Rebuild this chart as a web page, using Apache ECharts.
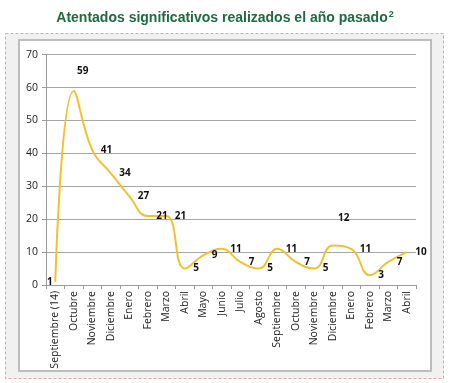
<!DOCTYPE html>
<html><head><meta charset="utf-8">
<script src="https://cdn.jsdelivr.net/npm/echarts@6/dist/echarts.min.js"></script>
<style>html,body{margin:0;padding:0;background:#fff}#c{width:450px;height:383px}</style>
</head><body><div id="c"></div>
<script>
const categories = ["Septiembre (14)","Octubre","Noviembre","Diciembre","Enero","Febrero","Marzo","Abril","Mayo","Junio","Julio","Agosto","Septiembre","Octubre","Noviembre","Diciembre","Enero","Febrero","Marzo","Abril"];
const values = [1,59,41,34,27,21,21,5,9,11,7,5,11,7,5,12,11,3,7,10];
const yTicks = [0,10,20,30,40,50,60,70];

const chart = echarts.init(document.getElementById('c'), null, {renderer:'canvas'});
const data = values.map((v,i)=>{
  const d = {value:v};
  if (i===0) d.label = {position:'left', distance:2};
  if (i===1) d.label = {position:'top', offset:[9,-6]};
  if (i===15) d.label = {position:'top', offset:[11,-14]};
  return d;
});
chart.setOption({
  animation:false,
  title:{
    text:'{t|Atentados significativos realizados el año pasado}{s|2}',
    left:'center', top:5,
    textStyle:{rich:{
      t:{fontFamily:'Liberation Sans, Arial',fontWeight:'bold',fontSize:14,color:'#1E6B41'},
      s:{fontFamily:'Liberation Sans, Arial',fontWeight:'bold',fontSize:9,color:'#1E6B41',verticalAlign:'top',padding:[0,0,8,1]}
    }}
  },
  graphic:[
    {type:'rect',shape:{x:5.5,y:33.5,width:438,height:345},style:{fill:'#F1F1F1',stroke:'#E3A3A3',lineWidth:1,lineDash:[3,2]},z:-10},
    {type:'rect',shape:{x:19,y:40,width:412,height:331},style:{fill:'#FFFFFF',stroke:'#BDBDBD',lineWidth:2},z:-9}
  ],
  grid:{left:46,right:34,top:54.7,bottom:98,containLabel:false},
  xAxis:{
    type:'category', data:categories, boundaryGap:true,
    axisLine:{lineStyle:{color:'#9A9A9A',width:1}},
    axisTick:{show:true,length:4,lineStyle:{color:'#9A9A9A'}},
    axisLabel:{rotate:90,interval:0,margin:6,fontFamily:'Open Sans, Liberation Sans',fontSize:10.5,color:'#222'}
  },
  yAxis:{
    type:'value', min:yTicks[0], max:yTicks[yTicks.length-1], interval:10,
    axisLine:{show:true,lineStyle:{color:'#9A9A9A'}},
    axisTick:{show:true,length:4,lineStyle:{color:'#9A9A9A'}},
    axisLabel:{margin:8,fontFamily:'Open Sans, Liberation Sans',fontSize:10.5,color:'#222'},
    splitLine:{lineStyle:{color:'#A6A6A6',width:1}}
  },
  series:[{
    type:'line', data:data, smooth:0.45, showSymbol:true, symbol:'circle', symbolSize:1,
    itemStyle:{color:'rgba(0,0,0,0)'},
    lineStyle:{color:'#F2C22E',width:2},
    label:{show:true,position:'right',distance:8,fontFamily:'Open Sans, Liberation Sans',fontWeight:'bold',fontSize:10,color:'#111'}
  }]
});
</script></body></html>
